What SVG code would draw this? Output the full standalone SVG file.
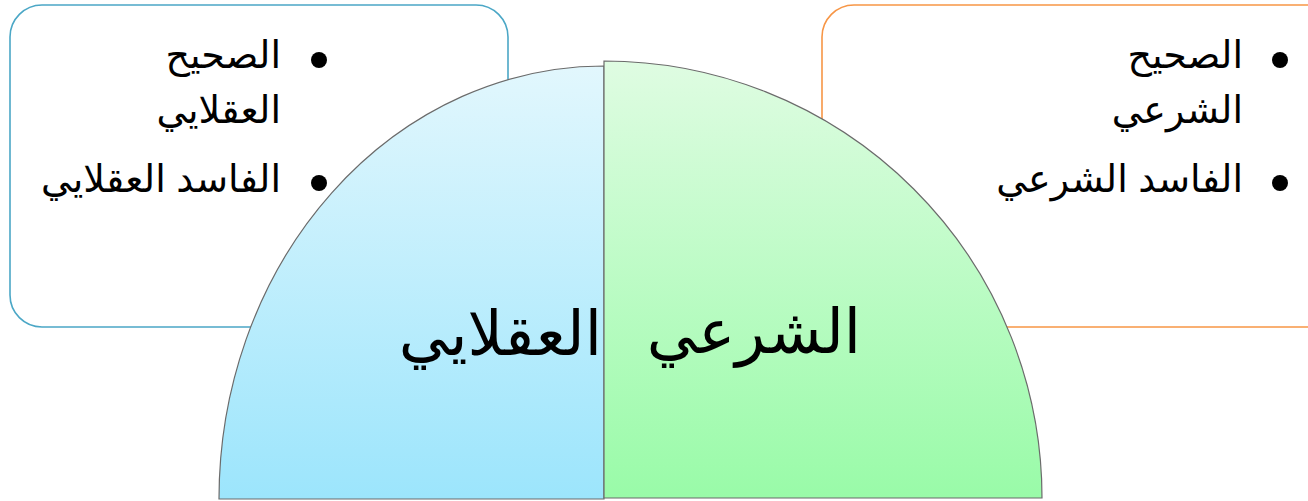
<svg xmlns="http://www.w3.org/2000/svg" width="1308" height="501" viewBox="0 0 1308 501">
<defs>
<linearGradient id="gBlue" x1="0" y1="0" x2="0" y2="1">
<stop offset="0" stop-color="#e2f7fd"/>
<stop offset="1" stop-color="#9ce5fc"/>
</linearGradient>
<linearGradient id="gGreen" x1="0" y1="0" x2="0" y2="1">
<stop offset="0" stop-color="#dffce2"/>
<stop offset="1" stop-color="#99fba8"/>
</linearGradient>
</defs>
<style>
.box{fill:#ffffff;stroke-width:1.6}
.t{font-family:"Liberation Sans","DejaVu Sans",sans-serif;fill:#000000}
.s{font-size:38px}
.b{font-size:62px}
.dot{fill:#000000}
.q{stroke:#6b6b6b;stroke-width:1.2}
</style>
<g id="box-left">
<rect class="box" x="10" y="5" width="498" height="322" rx="32" stroke="#4ba7c6"/>
<circle class="dot" cx="319" cy="60" r="8"/>
<text class="t s" x="281" y="68" text-anchor="end">الصحيح</text>
<text class="t s" x="281" y="123" text-anchor="end">العقلايي</text>
<circle class="dot" cx="319" cy="183" r="8"/>
<text class="t s" x="281" y="192" text-anchor="end">الفاسد العقلايي</text>
</g>
<g id="box-right">
<rect class="box" x="822" y="5" width="520" height="322" rx="32" stroke="#f79646"/>
<circle class="dot" cx="1280" cy="60" r="8"/>
<text class="t s" x="1243" y="68" text-anchor="end">الصحيح</text>
<text class="t s" x="1243" y="123" text-anchor="end">الشرعي</text>
<circle class="dot" cx="1280" cy="183" r="8"/>
<text class="t s" x="1243" y="192" text-anchor="end">الفاسد الشرعي</text>
</g>
<g id="quarter-left">
<path class="q" d="M219,499 A385,433 0 0 1 604,66 L604,499 Z" fill="url(#gBlue)"/>
<text class="t b" x="602" y="355" text-anchor="end">العقلايي</text>
</g>
<g id="quarter-right">
<path class="q" d="M604,498 L604,61 A438,437 0 0 1 1042,498 Z" fill="url(#gGreen)"/>
<text class="t b" x="861" y="353" text-anchor="end">الشرعي</text>
</g>
<g id="connectors"></g>
</svg>
